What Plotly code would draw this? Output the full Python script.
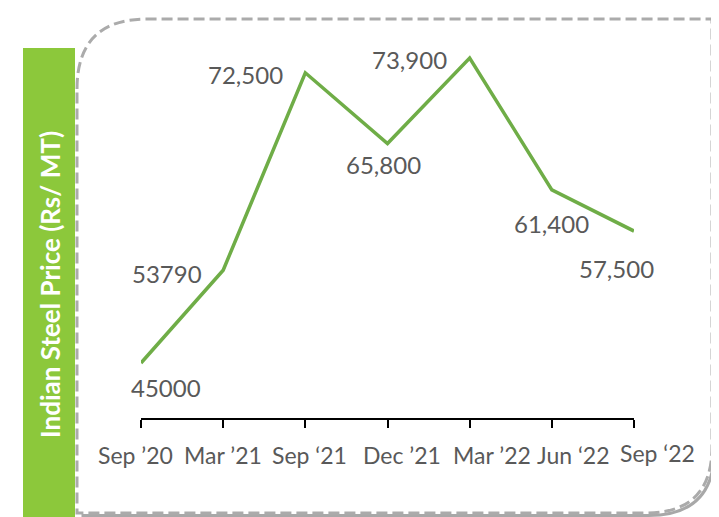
import plotly.graph_objects as go

# page offset (browser body margin) compensation
OFF = 8
W, H = 719 - OFF, 517 - OFF

categories = ["Sep ’20", "Mar ’21", "Sep ‘21", "Dec ’21", "Mar ’22", "Jun ‘22", "Sep ‘22"]
prices = [45000, 53790, 72500, 65800, 73900, 61400, 57500]
labels = ["45000", "53790", "72,500", "65,800", "73,900", "61,400", "57,500"]
# label offsets in pixels relative to each point (style only)
label_dx = [25, -56, -60, -4, -60, 0, -18]
label_dy = [-24, -3, -2, -21, -2, -34, -37]
# category label offsets relative to their tick (style only)
cat_dx = [-6, 0, 4, 14, 22, 22, 23]
cat_dy = [0, 0, 0, 0, 0, 0, 2]

title_text = "Indian Steel Price (Rs/ MT)"

GREEN_LINE = "#6FAD47"
GREEN_BAR = "#8CC83B"
GREY_TXT = "#595959"
BORDER = "#ABABAB"


def px(x):
    return (x - OFF) / W


def py(y):
    return 1 - (y - OFF) / H


idx = list(range(len(categories)))

fig = go.Figure()
fig.add_trace(go.Scatter(
    x=idx, y=prices, mode="lines",
    line=dict(color=GREEN_LINE, width=3.5),
    hoverinfo="skip", cliponaxis=False,
))

annotations = []
for i, (v, t) in enumerate(zip(prices, labels)):
    annotations.append(dict(
        x=i, y=v, xref="x", yref="y", text=t, showarrow=False,
        xshift=label_dx[i], yshift=label_dy[i],
        font=dict(family="Lato", size=24, color=GREY_TXT),
        xanchor="center", yanchor="middle",
    ))

for i, c in enumerate(categories):
    annotations.append(dict(
        x=i, y=py(455), xref="x", yref="paper", text=c, showarrow=False,
        xshift=cat_dx[i], yshift=cat_dy[i],
        font=dict(family="Lato", size=23, color=GREY_TXT),
        xanchor="center", yanchor="middle",
    ))

# vertical title on green bar
annotations.append(dict(
    x=px(50), y=py(285), xref="paper", yref="paper", text=title_text,
    showarrow=False, textangle=-90,
    font=dict(family="Lato", size=26, color="white", weight="bold"),
    xanchor="center", yanchor="middle",
))


def border_path(dx=0, dy=0):
    L, T, R, B = 77 + dx, 19 + dy, 712 + dx, 513 + dy
    r1, r2 = 70, 66
    pts = [
        f"M {px(L)},{py(T + r1)}",
        f"Q {px(L)},{py(T)} {px(L + r1)},{py(T)}",
        f"L {px(R)},{py(T)}",
        f"L {px(R)},{py(B - r2)}",
        f"Q {px(R)},{py(B)} {px(R - r2)},{py(B)}",
        f"L {px(L)},{py(B)}",
        "Z",
    ]
    return " ".join(pts)


def shadow_path(dx=2.5, dy=2.5):
    L, T, R, B = 77 + dx, 19 + dy, 712 + dx, 513 + dy
    r2 = 66
    pts = [
        f"M {px(R)},{py(T + 3)}",
        f"L {px(R)},{py(B - r2)}",
        f"Q {px(R)},{py(B)} {px(R - r2)},{py(B)}",
        f"L {px(L + 2)},{py(B)}",
    ]
    return " ".join(pts)


shapes = [
    dict(type="path", xref="paper", yref="paper", path=shadow_path(),
         line=dict(color="#A8A8A8", width=3), layer="below"),
    dict(type="path", xref="paper", yref="paper", path=border_path(),
         line=dict(color=BORDER, width=3, dash="11px,5px"), layer="below"),
    dict(type="rect", xref="paper", yref="paper",
         x0=px(23), x1=px(75), y0=py(517), y1=py(48),
         fillcolor=GREEN_BAR, line=dict(width=0), layer="below"),
]

# y pixel positions: 45000 -> 363, 73900 -> 58 ; axis line at 418
per_px = (73900 - 45000) / (363 - 58)
y_bottom = 45000 - (418 - 363) * per_px
y_top = 45000 + (363 - 19) * per_px

fig.update_layout(
    width=W, height=H,
    margin=dict(l=0, r=0, t=0, b=0, autoexpand=False),
    paper_bgcolor="white", plot_bgcolor="rgba(0,0,0,0)",
    showlegend=False,
    font=dict(family="Lato", color=GREY_TXT),
    xaxis=dict(
        domain=[px(141), px(634)], range=[0, len(categories) - 1],
        tickmode="array", tickvals=idx, ticktext=categories,
        showticklabels=False,
        showline=True, linecolor="black", linewidth=2,
        ticks="outside", ticklen=8, tickwidth=2, tickcolor="black",
        showgrid=False, zeroline=False, automargin=False,
    ),
    yaxis=dict(
        domain=[py(418), py(19)], range=[y_bottom, y_top],
        visible=False, showgrid=False, zeroline=False, automargin=False,
    ),
    annotations=annotations,
    shapes=shapes,
)

fig.write_html("out.html")
